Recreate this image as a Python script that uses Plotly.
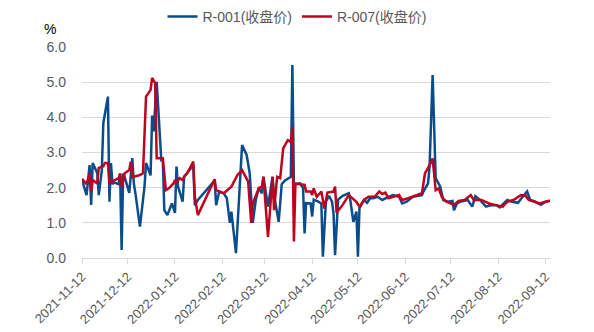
import plotly.graph_objects as go

r001_dates = [
    "2021-11-12", "2021-11-15", "2021-11-17", "2021-11-18", "2021-11-19", "2021-11-22", "2021-11-23",
    "2021-11-25", "2021-11-26", "2021-11-29", "2021-11-30", "2021-12-01", "2021-12-02", "2021-12-03",
    "2021-12-06", "2021-12-07", "2021-12-08", "2021-12-09", "2021-12-10", "2021-12-13", "2021-12-15",
    "2021-12-16", "2021-12-17", "2021-12-20", "2021-12-23", "2021-12-24", "2021-12-27", "2021-12-28",
    "2021-12-29", "2021-12-31", "2022-01-03", "2022-01-04", "2022-01-05", "2022-01-07", "2022-01-10",
    "2022-01-12", "2022-01-13", "2022-01-14", "2022-01-17", "2022-01-18", "2022-01-24", "2022-01-25",
    "2022-01-27", "2022-02-07", "2022-02-08", "2022-02-10", "2022-02-13", "2022-02-15", "2022-02-17",
    "2022-02-18", "2022-02-21", "2022-02-23", "2022-02-24", "2022-02-25", "2022-02-28", "2022-03-02",
    "2022-03-04", "2022-03-06", "2022-03-08", "2022-03-10", "2022-03-11", "2022-03-14", "2022-03-15",
    "2022-03-17", "2022-03-18", "2022-03-21", "2022-03-22", "2022-03-23", "2022-03-25", "2022-03-29",
    "2022-03-30", "2022-03-31", "2022-04-01", "2022-04-04", "2022-04-06", "2022-04-07", "2022-04-08",
    "2022-04-11", "2022-04-12", "2022-04-13", "2022-04-16", "2022-04-18", "2022-04-19", "2022-04-21",
    "2022-04-23", "2022-04-25", "2022-04-26", "2022-04-27", "2022-04-29", "2022-05-02", "2022-05-06",
    "2022-05-07", "2022-05-09", "2022-05-11", "2022-05-12", "2022-05-13", "2022-05-16", "2022-05-18",
    "2022-05-20", "2022-05-22", "2022-05-25", "2022-05-28", "2022-06-01", "2022-06-04", "2022-06-08",
    "2022-06-10", "2022-06-13", "2022-06-17", "2022-06-23", "2022-06-24", "2022-06-27", "2022-06-28",
    "2022-06-30", "2022-07-02", "2022-07-05", "2022-07-07", "2022-07-10", "2022-07-13", "2022-07-14",
    "2022-07-16", "2022-07-18", "2022-07-23", "2022-07-26", "2022-07-28", "2022-07-31", "2022-08-04",
    "2022-08-07", "2022-08-11", "2022-08-13", "2022-08-18", "2022-08-21", "2022-08-25", "2022-08-28",
    "2022-08-31", "2022-09-02", "2022-09-05", "2022-09-09", "2022-09-12", "2022-09-15",
]
r001_vals = [
    2.22, 1.79, 2.64, 1.51, 2.70, 2.42, 1.79,
    2.50, 3.84, 4.59, 1.60, 2.70, 2.10, 2.15,
    2.10, 2.40, 0.23, 2.40, 2.30, 1.85, 2.84,
    2.12, 1.85, 0.89, 2.03, 2.70, 2.35, 4.05,
    3.60, 5.01, 2.79, 2.80, 1.36, 1.22, 1.55,
    1.28, 2.60, 2.03, 1.60, 2.31, 2.64, 1.50,
    1.65, 2.20, 1.50, 1.89, 1.84, 1.70, 1.00,
    1.32, 0.14, 1.74, 2.27, 3.21, 2.93, 2.41,
    1.00, 1.65, 1.99, 1.84, 2.31, 1.46, 1.74,
    2.31, 1.79, 1.03, 1.55, 2.10, 2.20, 2.31,
    5.49, 2.10, 2.10, 2.12, 2.00, 0.70, 1.56,
    1.55, 1.18, 1.66, 1.60, 1.55, 0.04, 1.60,
    1.77, 1.60, 1.27, 0.08, 1.66, 1.77, 1.84,
    1.65, 1.03, 1.32, 0.04, 1.41, 1.65, 1.57,
    1.70, 1.70, 1.74, 1.65, 1.74, 1.79, 1.74,
    1.55, 1.60, 1.74, 1.79, 1.89, 2.12, 2.60,
    5.20, 2.27, 2.03, 1.65, 1.60, 1.62, 1.36,
    1.55, 1.60, 1.65, 1.46, 1.76, 1.65, 1.46,
    1.50, 1.50, 1.44, 1.65, 1.60, 1.57, 1.74,
    1.89, 1.65, 1.60, 1.51, 1.60, 1.63,
]

r007_dates = [
    "2021-11-12", "2021-11-15", "2021-11-17", "2021-11-18", "2021-11-19", "2021-11-22", "2021-11-23",
    "2021-11-26", "2021-11-27", "2021-11-29", "2021-11-30", "2021-12-06", "2021-12-07", "2021-12-08",
    "2021-12-10", "2021-12-13", "2021-12-14", "2021-12-15", "2021-12-20", "2021-12-22", "2021-12-24",
    "2021-12-27", "2021-12-28", "2021-12-30", "2021-12-31", "2022-01-04", "2022-01-06", "2022-01-08",
    "2022-01-11", "2022-01-12", "2022-01-13", "2022-01-15", "2022-01-17", "2022-01-18", "2022-01-20",
    "2022-01-24", "2022-01-25", "2022-01-27", "2022-02-07", "2022-02-08", "2022-02-13", "2022-02-18",
    "2022-02-22", "2022-02-25", "2022-03-01", "2022-03-03", "2022-03-04", "2022-03-08", "2022-03-10",
    "2022-03-11", "2022-03-14", "2022-03-17", "2022-03-18", "2022-03-20", "2022-03-22", "2022-03-24",
    "2022-03-27", "2022-03-29", "2022-03-30", "2022-03-31", "2022-04-01", "2022-04-07", "2022-04-08",
    "2022-04-11", "2022-04-12", "2022-04-13", "2022-04-15", "2022-04-18", "2022-04-20", "2022-04-22",
    "2022-04-26", "2022-04-27", "2022-04-28", "2022-05-02", "2022-05-06", "2022-05-11", "2022-05-13",
    "2022-05-16", "2022-05-19", "2022-05-23", "2022-05-26", "2022-05-28", "2022-05-30", "2022-06-01",
    "2022-06-08", "2022-06-10", "2022-06-14", "2022-06-19", "2022-06-23", "2022-06-25", "2022-06-27",
    "2022-06-30", "2022-07-02", "2022-07-04", "2022-07-06", "2022-07-09", "2022-07-14", "2022-07-17",
    "2022-07-21", "2022-07-25", "2022-07-27", "2022-08-01", "2022-08-06", "2022-08-10", "2022-08-15",
    "2022-08-18", "2022-08-22", "2022-08-27", "2022-08-30", "2022-09-01", "2022-09-04", "2022-09-08",
    "2022-09-13", "2022-09-15",
]
r007_vals = [
    2.25, 2.10, 2.40, 1.89, 2.22, 2.12, 2.56,
    2.61, 2.70, 2.70, 2.13, 2.27, 2.40, 2.03,
    2.41, 2.50, 2.74, 2.30, 2.36, 2.41, 4.59,
    4.78, 5.12, 4.97, 2.84, 2.84, 1.93, 1.98,
    2.12, 2.22, 2.12, 2.27, 2.22, 2.31, 2.41,
    2.74, 1.74, 1.22, 2.24, 1.93, 1.84, 2.03,
    2.36, 2.50, 2.17, 1.00, 1.55, 1.99, 2.03,
    2.31, 0.60, 2.31, 1.36, 2.31, 2.27, 3.12,
    3.35, 3.30, 3.73, 0.47, 2.12, 2.08, 1.89,
    1.89, 1.79, 1.98, 1.74, 1.89, 1.41, 1.86,
    1.89, 2.03, 1.29, 1.51, 1.79, 1.60, 1.46,
    1.65, 1.74, 1.74, 1.89, 1.82, 1.86, 1.70,
    1.79, 1.65, 1.70, 1.79, 1.84, 2.41, 2.56,
    2.83, 1.93, 1.98, 1.74, 1.60, 1.51, 1.62,
    1.65, 1.79, 1.65, 1.65, 1.55, 1.51, 1.46,
    1.60, 1.65, 1.79, 1.77, 1.65, 1.62, 1.55,
    1.60, 1.63,
]

tick_dates = [
    "2021-11-12", "2021-12-12", "2022-01-12", "2022-02-12", "2022-03-12", "2022-04-12",
    "2022-05-12", "2022-06-12", "2022-07-12", "2022-08-12", "2022-09-12",
]
y_ticks = [0, 1, 2, 3, 4, 5, 6]

series_names = ["R-001(收盘价)", "R-007(收盘价)"]
colors = ["#0b4d8c", "#c0001e"]

font_family = "Liberation Sans, Arial, Noto Sans CJK SC, sans-serif"

fig = go.Figure()
fig.add_trace(go.Scatter(x=r001_dates, y=r001_vals, mode="lines", name=series_names[0],
                         line=dict(color=colors[0], width=2.5)))
fig.add_trace(go.Scatter(x=r007_dates, y=r007_vals, mode="lines", name=series_names[1],
                         line=dict(color=colors[1], width=2.5)))

fig.update_layout(
    width=594, height=332,
    margin=dict(l=82, r=44, t=47, b=74, autoexpand=False),
    paper_bgcolor="white", plot_bgcolor="white",
    font=dict(family=font_family, size=12, color="#595959"),
    showlegend=True,
    legend=dict(orientation="h", xref="container", yref="container",
                x=0.5, xanchor="center", y=0.949, yanchor="middle",
                font=dict(size=14, color="#595959"), itemwidth=30, tracegroupgap=0,
                bgcolor="rgba(0,0,0,0)"),
    xaxis=dict(
        type="date", range=["2021-11-12", "2022-09-15"],
        tickvals=tick_dates, ticktext=tick_dates, tickangle=-45,
        showgrid=False, showline=True, linecolor="#d9d9d9", linewidth=1,
        ticks="outside", ticklen=5, tickcolor="#d9d9d9",
        tickfont=dict(size=13, color="#595959"),
    ),
    yaxis=dict(
        range=[0, 6], tickvals=y_ticks, tickformat=".1f",
        showgrid=True, gridcolor="#d9d9d9", gridwidth=1,
        zeroline=False, showline=False, ticks="", ticklabelstandoff=15,
        tickfont=dict(size=14, color="#595959"),
    ),
    annotations=[dict(text="%", xref="paper", yref="paper", x=-0.068, y=1.085,
                      xanchor="center", yanchor="middle", showarrow=False,
                      font=dict(size=14, color="#000000"))],
)

fig.write_html("out.html")
